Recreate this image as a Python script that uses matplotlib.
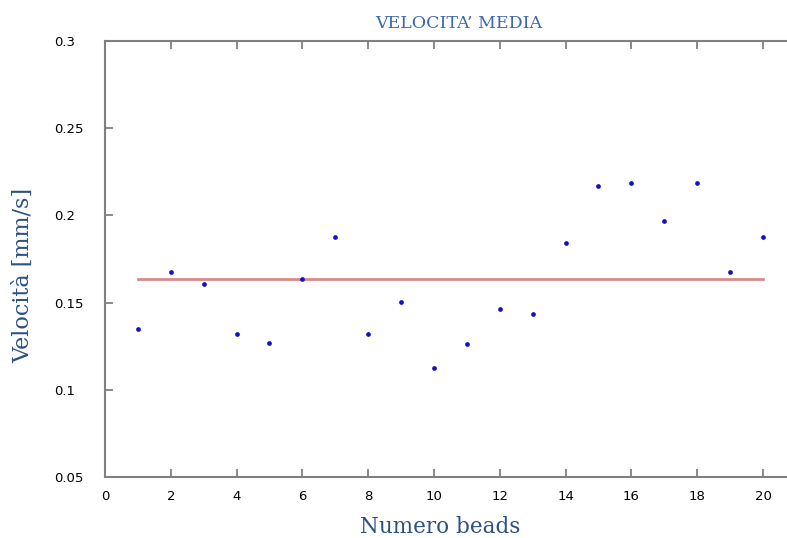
import numpy as np
import matplotlib
matplotlib.use("Agg")
import matplotlib.pyplot as plt

# velocità media di ogni bead
beads = list(range(1, 21))
velocita = [0.135, 0.1675, 0.1605, 0.1322, 0.1268, 0.1635, 0.1876, 0.1318, 0.1505, 0.1123,
            0.1265, 0.1465, 0.1436, 0.1842, 0.217, 0.2184, 0.197, 0.2184, 0.1675, 0.1876]
xticks = [0, 2, 4, 6, 8, 10, 12, 14, 16, 18, 20]
yticks = [0.05, 0.1, 0.15, 0.2, 0.25, 0.3]
yticklabels = ["0.05", "0.1", "0.15", "0.2", "0.25", "0.3"]

media = np.mean(velocita)

fig = plt.figure(figsize=(7.87, 5.38), dpi=100)
ax = fig.add_axes([105/787, 1-477/538, 1-105/787, (477-41)/538])

ax.plot([beads[0], beads[-1]], [media, media], color="#d98a8a", linewidth=2, zorder=2)
ax.plot(beads, velocita, linestyle="none", marker="o", markersize=3.4,
        color="#1010c8", markeredgewidth=0, zorder=3)

ax.set_xlim(0, 20.73)
ax.set_ylim(0.05, 0.3)
ax.set_xticks(xticks)
ax.set_yticks(yticks)
ax.set_yticklabels(yticklabels)

grigio = "#808080"
for lato in ["left", "bottom", "top"]:
    ax.spines[lato].set_color(grigio)
    ax.spines[lato].set_linewidth(1.5)
ax.spines["right"].set_visible(False)

ax.tick_params(axis="x", direction="in", length=6, width=1.3, color=grigio,
               top=True, pad=9, labelsize=9.5, labelcolor="#000000")
ax.tick_params(axis="y", direction="in", length=6, width=1.3, color=grigio,
               pad=36.5, labelsize=9.5, labelcolor="#000000")
for lab in ax.get_yticklabels():
    lab.set_horizontalalignment("left")

fig.text(459/787, 1-24/538, "VELOCITA\u2019 MEDIA", ha="center", va="center",
         family="DejaVu Serif", fontsize=12.5, color="#3c66ae")
fig.text(23/787, 1-275/538, "Velocità [mm/s]", rotation=90, ha="center", va="center",
         family="DejaVu Serif", fontsize=16, color="#2b5084")
fig.text(440/787, 1-527/538, "Numero beads", ha="center", va="center",
         family="DejaVu Serif", fontsize=15.5, color="#2b5084")

fig.savefig("out.png", dpi=100)
